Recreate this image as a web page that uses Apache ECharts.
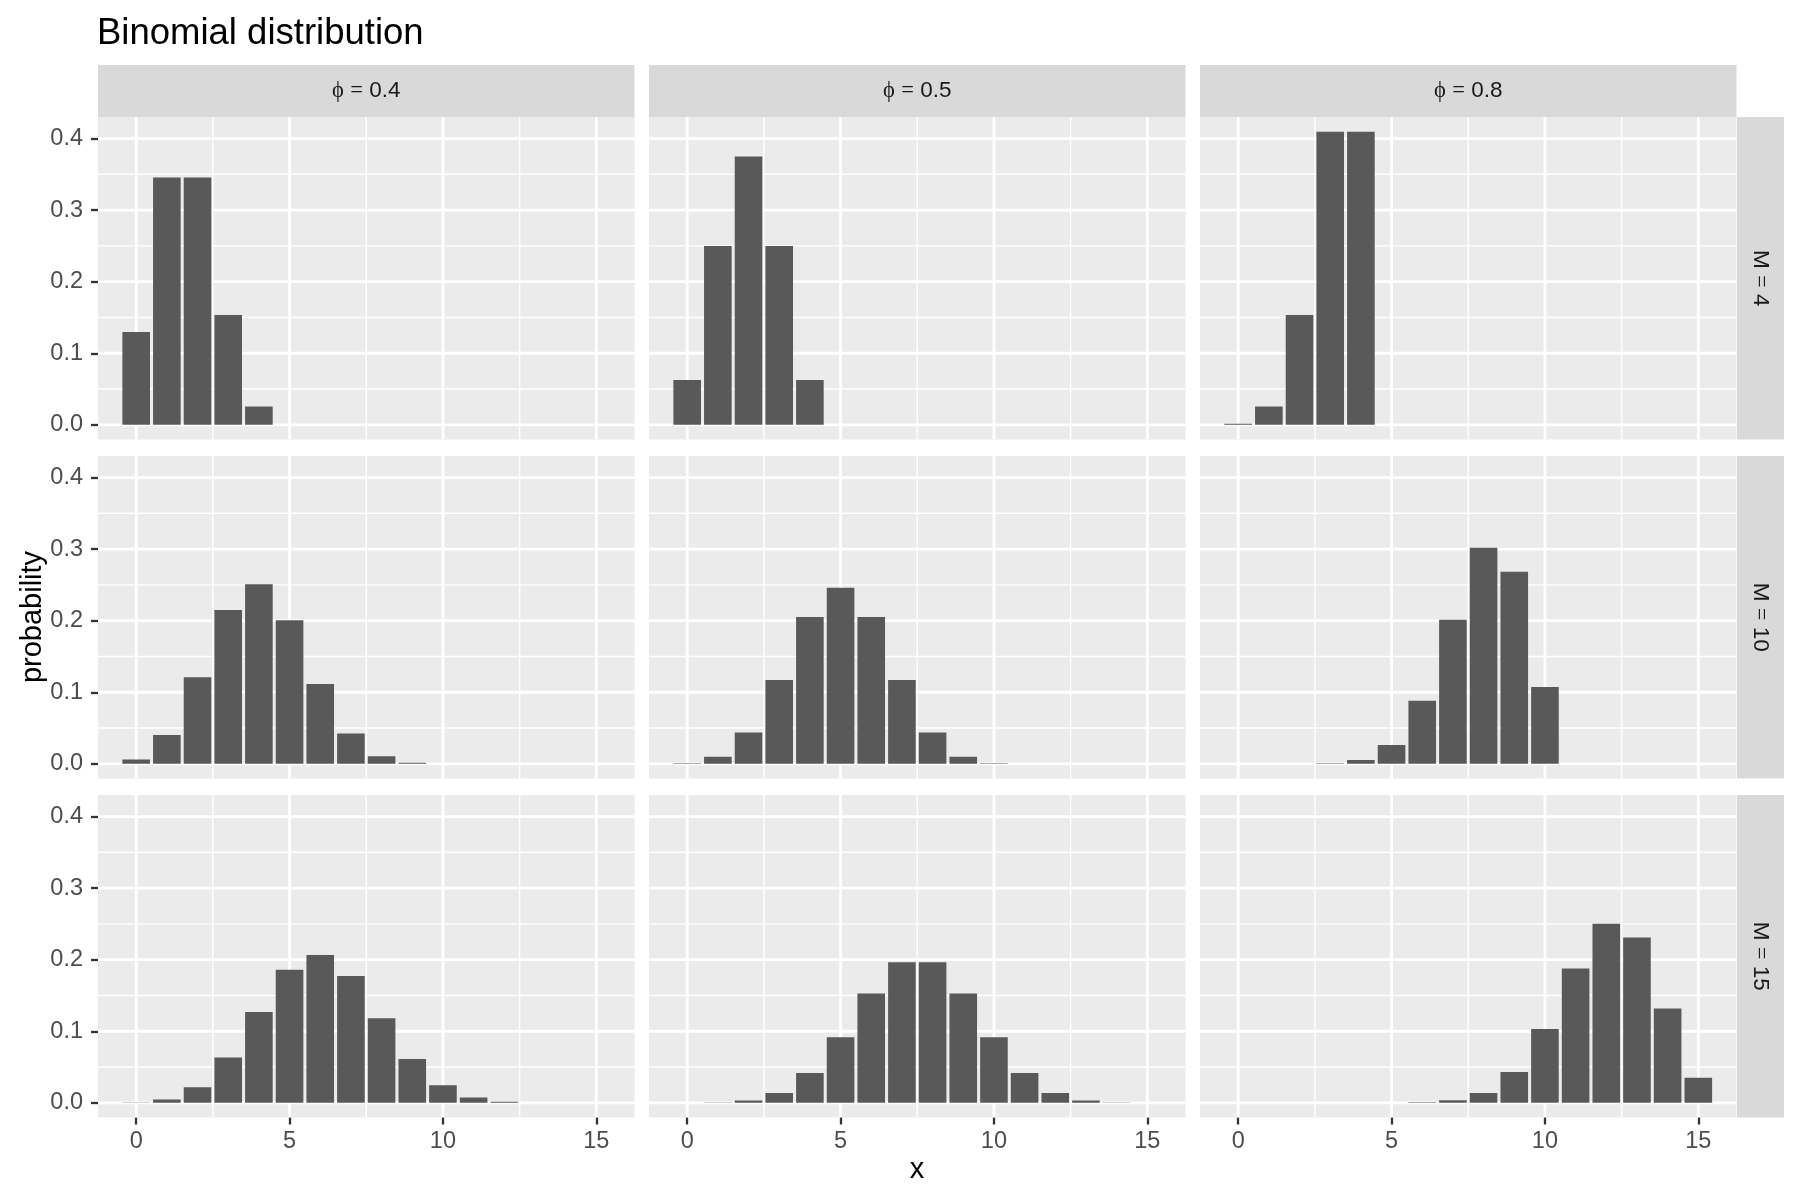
<!DOCTYPE html>
<html style="height: 100%">
<head>
<meta charset="utf-8">
<script src="https://cdn.jsdelivr.net/npm/echarts@6/dist/echarts.min.js"></script>
</head>
<body style="height: 100%; margin: 0; background: #fff">
<div id="container" style="width: 1800px; height: 1200px;"></div>
<script>
// x values (number of successes) for each M
var xM4 = [0, 1, 2, 3, 4];
var xM10 = [0, 1, 2, 3, 4, 5, 6, 7, 8, 9, 10];
var xM15 = [0, 1, 2, 3, 4, 5, 6, 7, 8, 9, 10, 11, 12, 13, 14, 15];

// probabilities
var pM4phi04 = [0.1296, 0.3456, 0.3456, 0.1536, 0.0256];
var pM4phi05 = [0.0625, 0.25, 0.375, 0.25, 0.0625];
var pM4phi08 = [0.0016, 0.0256, 0.1536, 0.4096, 0.4096];

var pM10phi04 = [0.0060, 0.0403, 0.1209, 0.2150, 0.2508, 0.2007, 0.1115, 0.0425, 0.0106, 0.0016, 0.0001];
var pM10phi05 = [0.0010, 0.0098, 0.0439, 0.1172, 0.2051, 0.2461, 0.2051, 0.1172, 0.0439, 0.0098, 0.0010];
var pM10phi08 = [0.0000, 0.0000, 0.0001, 0.0008, 0.0055, 0.0264, 0.0881, 0.2013, 0.3020, 0.2684, 0.1074];

var pM15phi04 = [0.0005, 0.0047, 0.0219, 0.0634, 0.1268, 0.1859, 0.2066, 0.1771, 0.1181, 0.0612, 0.0245, 0.0074, 0.0016, 0.0003, 0.0000, 0.0000];
var pM15phi05 = [0.0000, 0.0005, 0.0032, 0.0139, 0.0417, 0.0916, 0.1527, 0.1964, 0.1964, 0.1527, 0.0916, 0.0417, 0.0139, 0.0032, 0.0005, 0.0000];
var pM15phi08 = [0.0000, 0.0000, 0.0000, 0.0000, 0.0000, 0.0001, 0.0007, 0.0035, 0.0138, 0.0430, 0.1032, 0.1876, 0.2501, 0.2309, 0.1319, 0.0352];

// facet labels
var phiLabels = ['0.4', '0.5', '0.8'];
var mLabels = ['4', '10', '15'];

// tick / grid values
var xMajor = [0, 5, 10, 15];
var xMinor = [2.5, 7.5, 12.5];
var yMajor = [0, 0.1, 0.2, 0.3, 0.4];
var yMinor = [0.05, 0.15, 0.25, 0.35];

var xRows = [xM4, xM10, xM15];
var pTable = [
	[pM4phi04, pM4phi05, pM4phi08],
	[pM10phi04, pM10phi05, pM10phi08],
	[pM15phi04, pM15phi05, pM15phi08]
];

var FONT = '"Liberation Sans", Arial, sans-serif';
var SERIF = '"Liberation Serif", "DejaVu Serif", serif';
var X_MIN = -1.245, X_MAX = 16.245;
var Y_MIN = -0.02048, Y_MAX = 0.43008;
var HALF = 0.45;

var panelLeft = [98, 649, 1200];
var panelTop = [117, 456, 795];
var panelW = 536.5, panelH = 322.5;

var dom = document.getElementById("container");
var myChart = echarts.init(dom);

function renderBar(params, api) {
	var x = api.value(0), y = api.value(1);
	var p0 = api.coord([x - HALF, y]);
	var p1 = api.coord([x + HALF, 0]);
	return {
		type: 'rect',
		shape: { x: p0[0], y: p0[1], width: p1[0] - p0[0], height: p1[1] - p0[1] },
		style: { fill: '#595959' }
	};
}

// grid line item: [orient(0 = vertical, 1 = horizontal), value, width]
function renderGridLine(params, api) {
	var cs = params.coordSys;
	var orient = api.value(0), v = api.value(1), w = api.value(2);
	var shape;
	if (orient === 0) {
		var cx = api.coord([v, 0])[0];
		shape = { x1: cx, y1: cs.y, x2: cx, y2: cs.y + cs.height };
	} else {
		var cy = api.coord([0, v])[1];
		shape = { x1: cs.x, y1: cy, x2: cs.x + cs.width, y2: cy };
	}
	return { type: 'line', shape: shape, style: { stroke: '#FFFFFF', lineWidth: w } };
}

var gridLines = [];
xMinor.forEach(function (v) { gridLines.push([0, v, 1.4]); });
yMinor.forEach(function (v) { gridLines.push([1, v, 1.4]); });
xMajor.forEach(function (v) { gridLines.push([0, v, 2.8]); });
yMajor.forEach(function (v) { gridLines.push([1, v, 2.8]); });

var grids = [], xAxes = [], yAxes = [], series = [], graphics = [];

for (var r = 0; r < 3; r++) {
	for (var c = 0; c < 3; c++) {
		var idx = r * 3 + c;
		grids.push({
			left: panelLeft[c], top: panelTop[r], width: panelW, height: panelH,
			show: true, backgroundColor: '#EBEBEB', borderWidth: 0
		});
		xAxes.push({
			gridIndex: idx, type: 'value', min: X_MIN, max: X_MAX, position: 'bottom',
			axisLine: { show: false, onZero: false },
			splitLine: { show: false },
			axisTick: { show: r === 2, customValues: xMajor, length: 7, lineStyle: { color: '#333333', width: 2.3 } },
			axisLabel: { show: r === 2, customValues: xMajor, margin: 12, color: '#4D4D4D', fontSize: 23.5, fontFamily: FONT }
		});
		yAxes.push({
			gridIndex: idx, type: 'value', min: Y_MIN, max: Y_MAX, position: 'left',
			axisLine: { show: false, onZero: false },
			splitLine: { show: false },
			axisTick: { show: c === 0, customValues: yMajor, length: 7, lineStyle: { color: '#333333', width: 2.3 } },
			axisLabel: {
				show: c === 0, customValues: yMajor, margin: 15, color: '#4D4D4D', fontSize: 23.5, fontFamily: FONT,
				formatter: function (v) { return v.toFixed(1); }
			}
		});
		series.push({
			type: 'custom', xAxisIndex: idx, yAxisIndex: idx, z: 1, silent: true,
			renderItem: renderGridLine, data: gridLines, clip: true
		});
		var pts = xRows[r].map(function (x, i) { return [x, pTable[r][c][i]]; });
		series.push({
			type: 'custom', xAxisIndex: idx, yAxisIndex: idx, z: 2, silent: true,
			renderItem: renderBar, data: pts, clip: true
		});
	}
}

// top strips
for (var c2 = 0; c2 < 3; c2++) {
	graphics.push({
		type: 'rect', left: panelLeft[c2], top: 65,
		shape: { width: panelW, height: 52 }, style: { fill: '#D9D9D9' }
	});
	graphics.push({
		type: 'text', x: panelLeft[c2] + panelW / 2, y: 91,
		style: {
			text: '{p|ϕ} {e|=} ' + phiLabels[c2],
			align: 'center', verticalAlign: 'middle',
			fontSize: 22.5, fontFamily: FONT, fill: '#1A1A1A',
			rich: {
				p: { fontSize: 22.5, fontFamily: SERIF, fill: '#1A1A1A' },
				e: { fontSize: 22.5, fontFamily: SERIF, fill: '#1A1A1A' }
			}
		}
	});
}
// right strips
for (var r2 = 0; r2 < 3; r2++) {
	graphics.push({
		type: 'rect', left: 1737, top: panelTop[r2],
		shape: { width: 47, height: panelH }, style: { fill: '#D9D9D9' }
	});
	graphics.push({
		type: 'text', x: 1760, y: panelTop[r2] + panelH / 2, rotation: -Math.PI / 2,
		style: {
			text: 'M {e|=} ' + mLabels[r2],
			align: 'center', verticalAlign: 'middle',
			fontSize: 22.5, fontFamily: FONT, fill: '#1A1A1A',
			rich: { e: { fontSize: 22.5, fontFamily: SERIF, fill: '#1A1A1A' } }
		}
	});
}
// axis titles
graphics.push({
	type: 'text', x: 917, y: 1170,
	style: { text: 'x', align: 'center', verticalAlign: 'middle', fontSize: 29, fontFamily: FONT, fill: '#000000' }
});
graphics.push({
	type: 'text', x: 33, y: 617, rotation: Math.PI / 2,
	style: { text: 'probability', align: 'center', verticalAlign: 'middle', fontSize: 29, fontFamily: FONT, fill: '#000000' }
});

var option = {
	backgroundColor: '#FFFFFF',
	animation: false,
	title: {
		text: 'Binomial distribution', left: 92, top: 10,
		textStyle: { fontSize: 36.5, fontWeight: 'normal', color: '#000000', fontFamily: FONT }
	},
	grid: grids,
	xAxis: xAxes,
	yAxis: yAxes,
	series: series,
	graphic: graphics
};
myChart.setOption(option, true);
</script>
</body>
</html>
